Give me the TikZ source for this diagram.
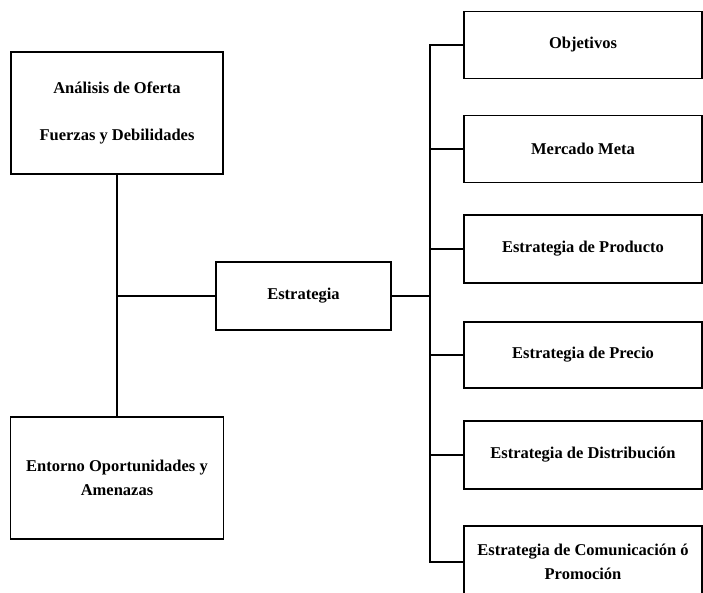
\documentclass[tikz,border=0pt]{standalone}
\usepackage{fontspec}
\setmainfont{Liberation Serif}
\begin{document}
\begin{tikzpicture}[x=1pt,y=-1pt,
  box/.style={draw,line width=1.5pt,inner sep=0pt,align=center,
    font=\fontsize{16.5}{24}\selectfont\bfseries},
  link/.style={line width=1.4pt}]
\useasboundingbox (0,0) rectangle (703,592);
% left column
\node[box,minimum width=212,minimum height=122] (ana) at (117,113)
  {Análisis de Oferta\\[23pt]Fuerzas y Debilidades};
\node[box,minimum width=213,minimum height=122] (ent) at (117,478)
  {Entorno Oportunidades y\\Amenazas};
% centre
\node[box,minimum width=175,minimum height=68] (est) at (303.5,296) {Estrategia};
% right column
\node[box,minimum width=238,minimum height=67] (obj) at (583,45) {Objetivos};
\node[box,minimum width=238,minimum height=67] (mer) at (583,149) {Mercado Meta};
\node[box,minimum width=238,minimum height=68] (pro) at (583,249) {Estrategia de Producto};
\node[box,minimum width=238,minimum height=66] (pre) at (583,355) {Estrategia de Precio};
\node[box,minimum width=238,minimum height=68] (dis) at (583,455) {Estrategia de Distribución};
\node[box,minimum width=238,minimum height=72] (com) at (583,562) {Estrategia de Comunicación ó\\Promoción};
% connectors
\coordinate (rt) at (430,296);
\draw[link] (ana.south) -- (ent.north);
\draw[link] (est.west) -- (est.west -| ana.south);
\draw[link] (est.east) -- (rt);
\draw[link] (obj.west) -| (rt) |- (com.west);
\draw[link] (mer.west) -- (mer.west -| rt);
\draw[link] (pro.west) -- (pro.west -| rt);
\draw[link] (pre.west) -- (pre.west -| rt);
\draw[link] (dis.west) -- (dis.west -| rt);
\end{tikzpicture}
\end{document}
